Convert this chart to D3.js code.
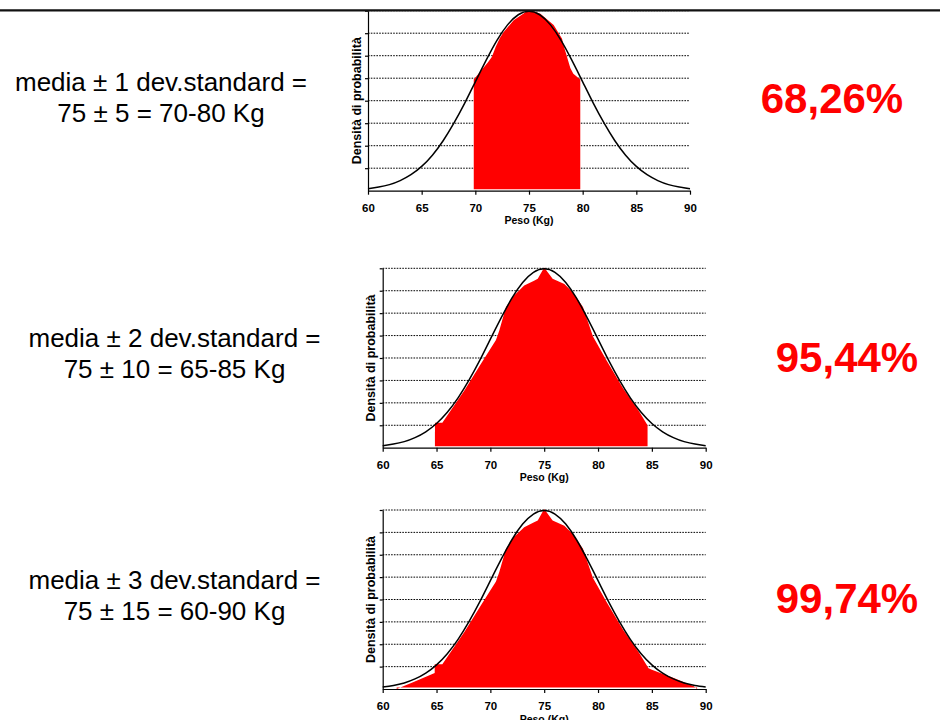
<!DOCTYPE html>
<html>
<head>
<meta charset="utf-8">
<script src="https://cdn.jsdelivr.net/npm/d3@7"></script>
<style>
  body { margin: 0; background: #fff; }
  svg { display: block; font-family: "Liberation Sans", Arial, sans-serif; }
</style>
</head>
<body>
<svg id="chart" width="940" height="720"></svg>
<script>
// theoretical normal curve (media 75, dev.std 5), read at every kg
const normX = d3.range(60, 91);
const normY = [0.0009, 0.0016, 0.0027, 0.0045, 0.0071, 0.0108, 0.0158, 0.0222, 0.0300, 0.0388,
  0.0484, 0.0579, 0.0667, 0.0737, 0.0782, 0.0798, 0.0782, 0.0737, 0.0667, 0.0579,
  0.0484, 0.0388, 0.0300, 0.0222, 0.0158, 0.0108, 0.0071, 0.0045, 0.0027, 0.0016, 0.0009];

// observed red shape, top panel
const obs1X = [69.83, 71.2, 71.55, 71.9, 72.3, 72.64, 73.57, 74.5, 75.0, 76.06, 77.3, 78.08, 78.2, 78.85, 79.13, 79.8];
const obs1Y = [0.0493, 0.0572, 0.0595, 0.064, 0.068, 0.0705, 0.0758, 0.0788, 0.0805, 0.0786, 0.0737, 0.0675, 0.065, 0.0545, 0.052, 0.0493];

// observed red shape, second and third panel
const obs2X = [61.3, 62.98, 64.83, 64.83, 65.54, 67.6, 69.14, 70.52, 70.83, 71.45, 72.2, 73.14, 74.06, 74.4, 75.0,
  75.78, 76.87, 77.66, 78.6, 79.53, 80.78, 82.34, 83.75, 84.69, 85.0, 87.03, 88.9, 89.2];
const obs2Y = [0, 0.0034, 0.0071, 0.0111, 0.0111, 0.0256, 0.0375, 0.048, 0.0523, 0.0627, 0.0679, 0.0723, 0.0745, 0.0753, 0.0804,
  0.0753, 0.073, 0.0693, 0.0627, 0.0496, 0.039, 0.0264, 0.0167, 0.0093, 0.0086, 0.0049, 0.0012, 0];

const ranges = [[69.83, 79.8], [64.85, 84.6], [60, 90]];
const xTicks = [60, 65, 70, 75, 80, 85, 90];
const yGrid = [0.01, 0.02, 0.03, 0.04, 0.05, 0.06, 0.07, 0.08];

const line1 = ["media \u00b1 1 dev.standard =", "media \u00b1 2 dev.standard =", "media \u00b1 3 dev.standard ="];
const line2 = ["75 \u00b1 5 = 70-80 Kg", "75 \u00b1 10 = 65-85 Kg", "75 \u00b1 15 = 60-90 Kg"];
const percents = ["68,26%", "95,44%", "99,74%"];

// layout of the three panels
const panels = [
  { left: 368, top: 10.7, width: 322, height: 180, textX: 161, textY: 91, pctX: 832, pctY: 113 },
  { left: 382.7, top: 268.3, width: 323, height: 179.4, textX: 174.5, textY: 347, pctX: 847, pctY: 372 },
  { left: 382.7, top: 510, width: 323, height: 179, textX: 174.5, textY: 589, pctX: 847, pctY: 613 }
];

const svg = d3.select("#chart");
const defs = svg.append("defs");

// top panel is cut by the slide rule
defs.append("clipPath").attr("id", "cut-top")
  .append("rect").attr("x", 0).attr("y", 10).attr("width", 940).attr("height", 710);

const norm = normX.map((x, i) => ({ x, y: normY[i] }));
const obs1 = obs1X.map((x, i) => ({ x, y: obs1Y[i] }));
const obs2 = obs2X.map((x, i) => ({ x, y: obs2Y[i] }));

panels.forEach((p, i) => {
  const x = d3.scaleLinear().domain([60, 90]).range([0, p.width]);
  const y = d3.scaleLinear().domain([0, 0.08]).range([p.height, 0]);

  const outer = svg.append("g");
  if (i === 0) outer.attr("clip-path", "url(#cut-top)");
  const g = outer.append("g").attr("transform", `translate(${p.left},${p.top})`);

  // dotted grid
  g.selectAll(".grid").data(yGrid).enter().append("line")
    .attr("x1", 0).attr("x2", p.width)
    .attr("y1", d => y(d)).attr("y2", d => y(d))
    .attr("stroke", "#000").attr("stroke-width", 1)
    .attr("stroke-dasharray", "1.6,1.2");

  // red observed area, limited to the band of the panel
  const [lo, hi] = ranges[i];
  const cid = "band" + i;
  defs.append("clipPath").attr("id", cid)
    .append("rect").attr("x", x(lo)).attr("y", -20).attr("width", x(hi) - x(lo)).attr("height", p.height + 40);

  const area = d3.area()
    .x(d => x(d.x))
    .y0(y(0) - 1.5)
    .y1(d => y(d.y));

  g.append("path")
    .datum(i === 0 ? obs1 : obs2)
    .attr("clip-path", `url(#${cid})`)
    .attr("fill", "#ff0000")
    .attr("d", area);

  // normal curve
  g.append("path")
    .datum(norm)
    .attr("fill", "none")
    .attr("stroke", "#000")
    .attr("stroke-width", 1.5)
    .attr("d", d3.line().x(d => x(d.x)).y(d => y(d.y)).curve(d3.curveNatural));

  // axes
  const xAxis = g.append("g").attr("transform", `translate(0,${p.height})`)
    .call(d3.axisBottom(x).tickValues(xTicks).tickSize(4).tickSizeOuter(0));
  xAxis.selectAll("text").attr("y", 13)
    .style("font-size", "11.5px").style("font-weight", "bold")
    .style("font-family", "'Liberation Sans', Arial, sans-serif").attr("fill", "#000");

  g.append("g")
    .call(d3.axisLeft(y).tickValues(yGrid).tickSize(3).tickSizeOuter(0).tickFormat(""));

  g.selectAll(".domain, .tick line").attr("stroke", "#000").attr("stroke-width", 1.2);

  g.append("text")
    .attr("x", p.width / 2).attr("y", p.height + 33.5)
    .attr("text-anchor", "middle")
    .style("font-size", "10.5px").style("font-weight", "bold")
    .text("Peso (Kg)");

  g.append("text")
    .attr("transform", `translate(-7.5,${p.height / 2}) rotate(-90)`)
    .attr("text-anchor", "middle")
    .style("font-size", "12.5px").style("font-weight", "bold")
    .text("Densit\u00e0 di probabilit\u00e0");

  // left description
  svg.append("text")
    .attr("x", p.textX).attr("y", p.textY)
    .attr("text-anchor", "middle")
    .style("font-size", "26px")
    .text(line1[i]);
  svg.append("text")
    .attr("x", p.textX).attr("y", p.textY + 31)
    .attr("text-anchor", "middle")
    .style("font-size", "26px")
    .text(line2[i]);

  // percentage
  svg.append("text")
    .attr("x", p.pctX).attr("y", p.pctY)
    .attr("text-anchor", "middle")
    .attr("fill", "#ff0000")
    .style("font-size", "42px").style("font-weight", "bold")
    .text(percents[i]);
});

// slide rule across the top
svg.append("line")
  .attr("x1", 0).attr("x2", 940)
  .attr("y1", 10.3).attr("y2", 10.3)
  .attr("stroke", "#111").attr("stroke-width", 2.2);
</script>
</body>
</html>
